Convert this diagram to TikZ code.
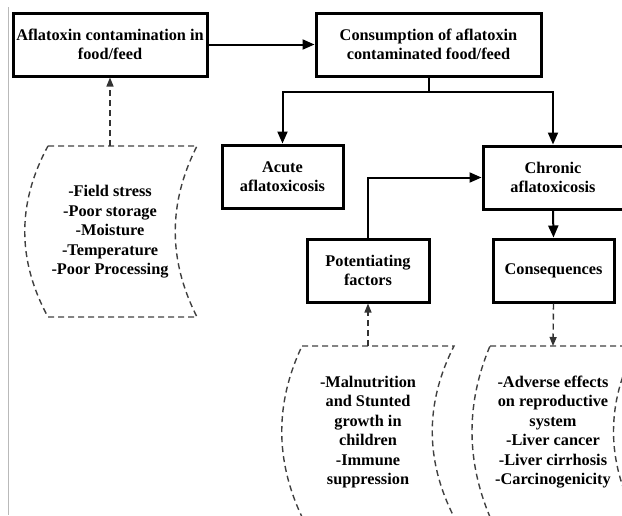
\documentclass[tikz,border=0pt]{standalone}
\usepackage{fontspec}
\setmainfont{Liberation Serif}
\usetikzlibrary{arrows.meta}
\begin{document}
\begin{tikzpicture}[x=1pt,y=-1pt,
  box/.style={draw, line width=3pt, align=center, inner sep=1pt,
    minimum height=63pt, font=\fontsize{16.3}{19.5}\selectfont\bfseries},
  conn/.style={line width=2pt, -{Triangle[length=12pt,width=10pt]}},
  dashline/.style={dash pattern=on 6pt off 4pt, line width=1.4pt, draw=black!75},
  dasharrow/.style={dashline, -{Triangle[length=9pt,width=7pt]}, color=black!80},
  listtext/.style={align=center, inner sep=0pt, font=\fontsize{16.3}{19.5}\selectfont\bfseries}
]
\useasboundingbox (0,0) rectangle (622,515);
\clip (0,0) rectangle (622,515);

% left page rule
\draw[gray!55, line width=0.8pt] (8,7) -- (8,515);

% boxes
\node[box, minimum width=194pt] (A) at (110,44.5) {Aflatoxin contamination in\\food/feed};
\node[box, minimum width=225pt] (B) at (428.5,44.5) {Consumption of aflatoxin\\contaminated food/feed};
\node[box, minimum width=121pt] (acute) at (282.5,176.5) {Acute\\aflatoxicosis};
\node[box, minimum width=140pt] (chronic) at (553,177.5) {Chronic\\aflatoxicosis};
\node[box, minimum width=122pt] (pot) at (368,270.5) {Potentiating\\factors};
\node[box, minimum width=121pt] (cons) at (553.5,270.5) {Consequences};

% dashed stored-data shapes
\draw[dashline] (48,146) -- (197,146) .. controls (168,203) and (168,260) .. (197,317)
  -- (48,317) .. controls (17,260) and (17,203) .. (48,146);
\draw[dashline] (302,346) -- (454,346) .. controls (425,403) and (425,460) .. (454,517)
  -- (302,517) .. controls (275,460) and (275,403) .. (302,346);
\draw[dashline] (490,346) -- (636,346) .. controls (606,403) and (606,460) .. (636,517)
  -- (490,517) .. controls (466,460) and (466,403) .. (490,346);

\coordinate (ltop) at (110,146);
\coordinate (mtop) at (368,346);
\coordinate (rtop) at (553,346);

% list texts
\node[listtext] (lt) at (110,232) {-Field stress\\-Poor storage\\-Moisture\\-Temperature\\-Poor Processing};
\node[listtext] (mt) at (368,432) {-Malnutrition\\and Stunted\\growth in\\children\\-Immune\\suppression};
\node[listtext] (rt) at (553,432) {-Adverse effects\\on reproductive\\system\\-Liver cancer\\-Liver cirrhosis\\-Carcinogenicity};

% solid connectors
\draw[conn] (A.east) -- (B.west);
\draw[line width=2pt] (B.south) -- ++(0,14) coordinate (split);
\draw[conn] (split) -| (acute.north);
\draw[conn] (split) -| (chronic.north);
\draw[conn] (pot.north) |- (chronic.west);
\draw[conn] (chronic.south) -- (cons.north);

% dashed connectors
\draw[dasharrow] (ltop) -- (A.south);
\draw[dasharrow] (mtop) -- (pot.south);
\draw[dasharrow] (cons.south) -- (rtop);
\end{tikzpicture}
\end{document}
